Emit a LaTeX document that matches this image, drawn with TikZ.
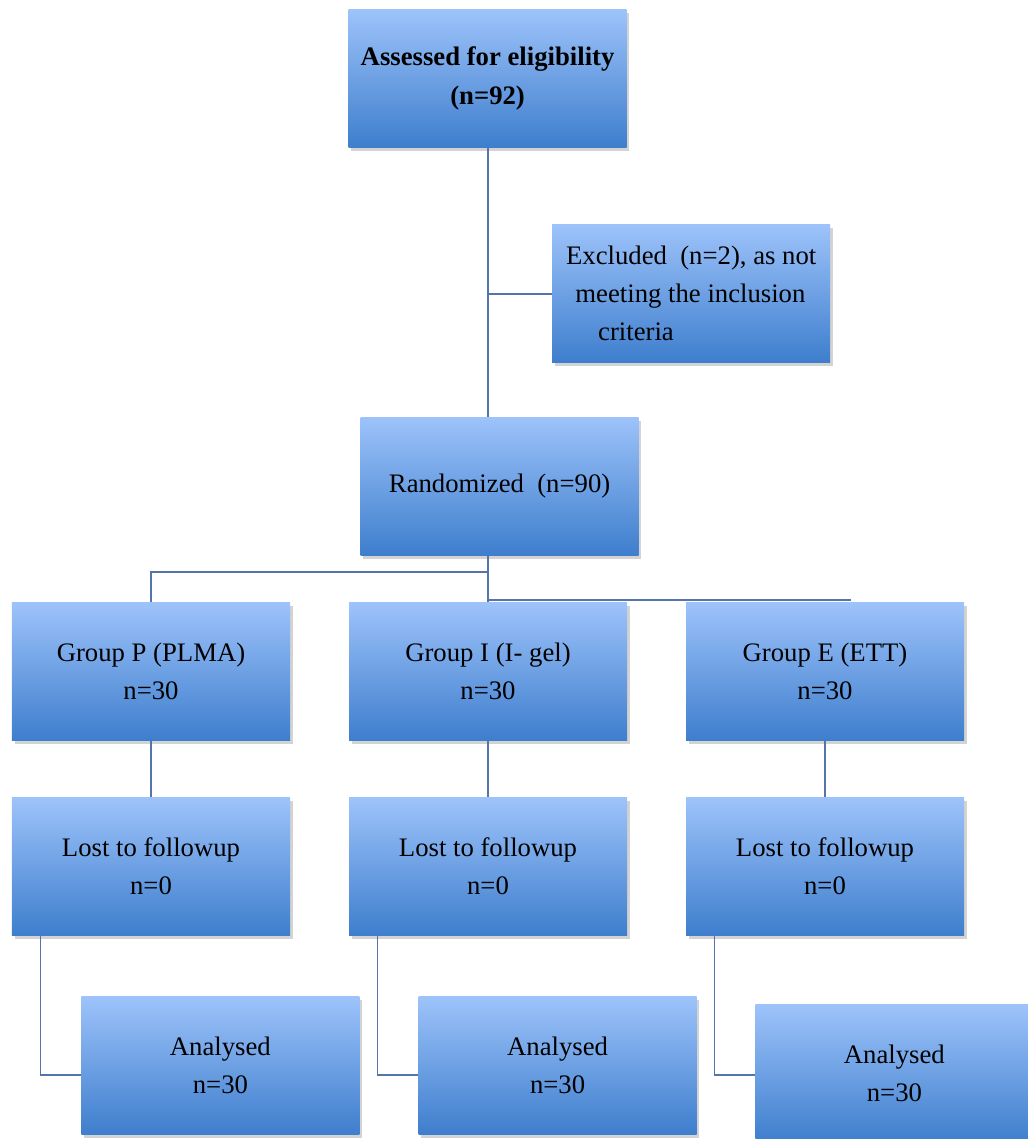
\documentclass[tikz,border=0pt]{standalone}
\usepackage{fontspec}
\setmainfont{Liberation Serif}
\usepackage{tikz}
\usetikzlibrary{shadows,calc}
\definecolor{boxtop}{RGB}{157,195,250}
\definecolor{boxbottom}{RGB}{62,126,205}
\definecolor{linkblue}{RGB}{84,116,172}

\begin{document}
\begin{tikzpicture}[node distance=8.425cm,
  flowbox/.style={rectangle, minimum width=6.95cm, minimum height=3.45cm, inner sep=2pt,
    top color=boxtop, bottom color=boxbottom, align=center,
    font=\fontsize{19}{27}\selectfont,
    drop shadow={shadow xshift=0.07cm, shadow yshift=-0.09cm, opacity=0.35}},
  link/.style={draw=linkblue, line width=1.3pt}]
\useasboundingbox (0,0) rectangle (25.675,-28.475);
% Create nodes for the trial flow
\node[flowbox, font=\bfseries\fontsize{19}{28}\selectfont] (assess) at (12.19,-1.96) {Assessed for eligibility\\(n=92)};
\node[flowbox, align=left] (excluded) at (17.28,-7.34) {Excluded\ \ (n=2),\ as not\\\hspace*{0.35em}meeting the inclusion\\\hspace*{1.2em}criteria};
\node[flowbox] (random) at (12.49,-12.15) {Randomized\ \ (n=90)};
\node[flowbox] (groupP) at (3.775,-16.79) {Group P (PLMA)\\n=30};
\node[flowbox, right of=groupP] (groupI) {Group I (I-\ gel)\\n=30};
\node[flowbox, right of=groupI] (groupE) {Group E (ETT)\\n=30};
\node[flowbox, below of=groupP, node distance=4.875cm] (lostP) {Lost to followup\\n=0};
\node[flowbox, below of=groupI, node distance=4.875cm] (lostI) {Lost to followup\\n=0};
\node[flowbox, below of=groupE, node distance=4.875cm] (lostE) {Lost to followup\\n=0};
\node[flowbox] (analysedP) at (5.51,-26.64) {Analysed\\n=30};
\node[flowbox] (analysedI) at (13.94,-26.64) {Analysed\\n=30};
\node[flowbox] (analysedE) at (22.36,-26.84) {Analysed\\n=30};

% Add connections
\coordinate (split) at ($(groupI.north)+(0,0.75)$);
\coordinate (stub) at ($(groupE.north)+(0.65,0.05)$);
\draw[link] (assess.south) -- (assess.south |- random.north);
\draw[link] ($(assess.south)!(excluded.west)!(assess.south |- random.north)$) -- (excluded.west);
\draw[link] (groupI.north |- random.south) -- (groupI.north);
\draw[link] (split) -| (groupP.north);
\draw[link] ($(groupI.north)+(0,0.05)$) -- (stub);
\foreach \g in {P,I,E} {
  \draw[link] (group\g.south) -- (lost\g.north);
  \draw[link] ($(lost\g.south west)+(0.72,0)$) |- ($(analysed\g.west |- analysedP.west)+(0,-0.24)$);
}
\end{tikzpicture}
\end{document}
